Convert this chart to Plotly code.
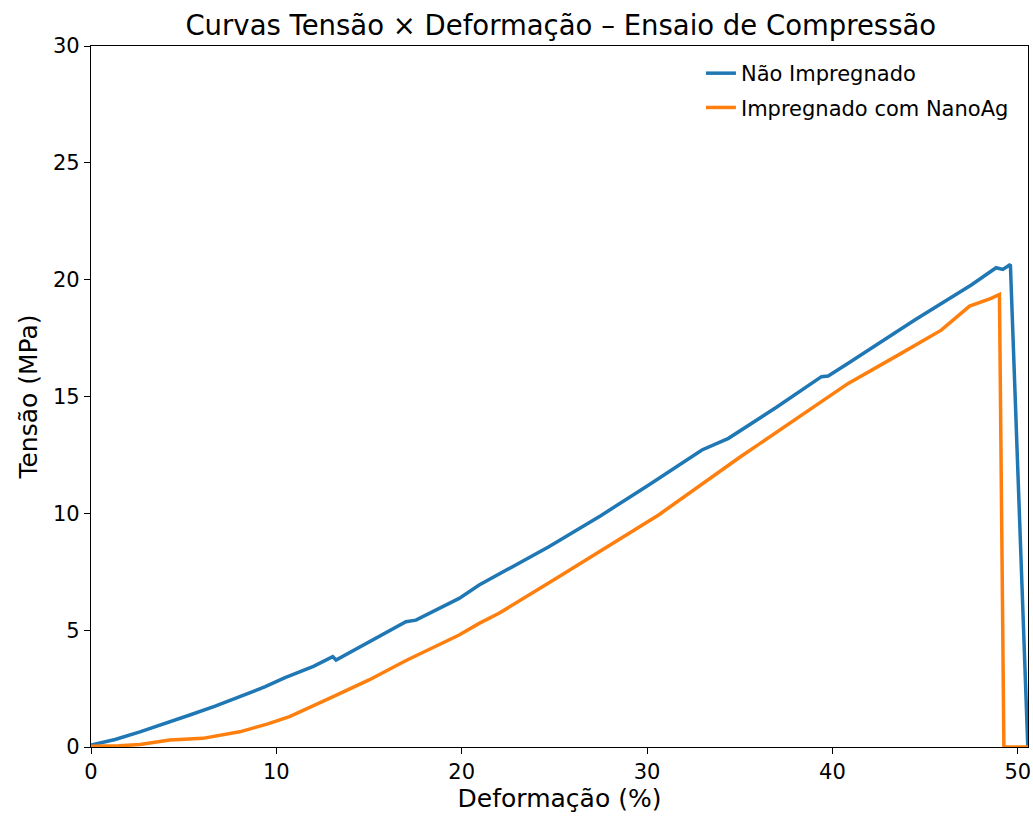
import plotly.graph_objects as go

# Compression test: stress (MPa) vs. strain (%)
strain_plain = [0.0, 1.3, 2.64, 4.0, 5.33, 6.7, 8.02, 9.4, 10.5, 10.71, 12.0, 13.04,
                13.22, 15.0, 16.99, 17.53, 19.86, 20.94, 24.7, 27.5, 30.09, 32.96,
                34.39, 37.0, 39.41, 39.77, 40.85, 44.44, 47.49, 48.83, 49.19, 49.6, 50.54]
stress_plain = [0.08, 0.32, 0.65, 1.0, 1.37, 1.75, 2.15, 2.58, 2.98, 3.04, 3.45, 3.87,
                3.72, 4.5, 5.36, 5.43, 6.36, 6.93, 8.57, 9.9, 11.21, 12.71,
                13.21, 14.55, 15.85, 15.88, 16.42, 18.27, 19.77, 20.51, 20.44, 20.65, 0.0]

strain_nanoag = [0.0, 1.5, 2.64, 4.25, 6.03, 8.02, 9.5, 10.71, 12.86, 15.0, 17.0,
                 19.86, 20.94, 22.01, 25.24, 29.19, 30.09, 30.62, 35.0, 40.85, 43.54,
                 45.87, 47.4, 48.56, 49.01, 49.25, 50.55]
stress_nanoag = [0.03, 0.05, 0.11, 0.30, 0.37, 0.65, 0.98, 1.30, 2.08, 2.87, 3.7,
                 4.79, 5.29, 5.72, 7.29, 9.21, 9.64, 9.93, 12.4, 15.56, 16.77,
                 17.84, 18.87, 19.2, 19.37, 0.0, 0.0]

x_ticks = [0, 10, 20, 30, 40, 50]
y_ticks = [0, 5, 10, 15, 20, 25, 30]

FONT = "DejaVu Sans"

fig = go.Figure()
fig.add_trace(go.Scatter(x=strain_plain, y=stress_plain, mode="lines",
                         name="Não Impregnado", legendgroup="a",
                         line=dict(color="#1f77b4", width=3.5)))
fig.add_trace(go.Scatter(x=strain_nanoag, y=stress_nanoag, mode="lines",
                         name="Impregnado com NanoAg", legendgroup="b",
                         line=dict(color="#ff7f0e", width=3.5)))

axis_common = dict(showgrid=False, zeroline=False, showline=True, linecolor="black",
                   linewidth=1.3, mirror=True, ticks="outside", ticklen=6,
                   tickwidth=1.3, tickcolor="black", ticklabeloverflow="allow",
                   tickfont=dict(family=FONT, size=21, color="black"))

fig.update_layout(
    width=1033, height=819,
    margin=dict(l=91, r=2, t=46, b=72),
    paper_bgcolor="white", plot_bgcolor="white",
    title=dict(text="Curvas Tensão × Deformação – Ensaio de Compressão",
               x=0.5429, xanchor="center", y=0.969, yanchor="middle",
               yref="container",
               font=dict(family=FONT, size=27.5, color="black")),
    xaxis=dict(range=[0, 50.55], tickvals=x_ticks,
               title=dict(text="Deformação (%)", standoff=6,
                          font=dict(family=FONT, size=25, color="black")),
               **axis_common),
    yaxis=dict(range=[0, 30], tickvals=y_ticks,
               title=dict(text="Tensão (MPa)", standoff=8,
                          font=dict(family=FONT, size=25, color="black")),
               **axis_common),
    legend=dict(x=0.985, y=0.99, xanchor="right", yanchor="top",
                bgcolor="rgba(0,0,0,0)", borderwidth=0, tracegroupgap=4,
                traceorder="grouped",
                font=dict(family=FONT, size=21, color="black")),
)

fig.write_html("out.html")
